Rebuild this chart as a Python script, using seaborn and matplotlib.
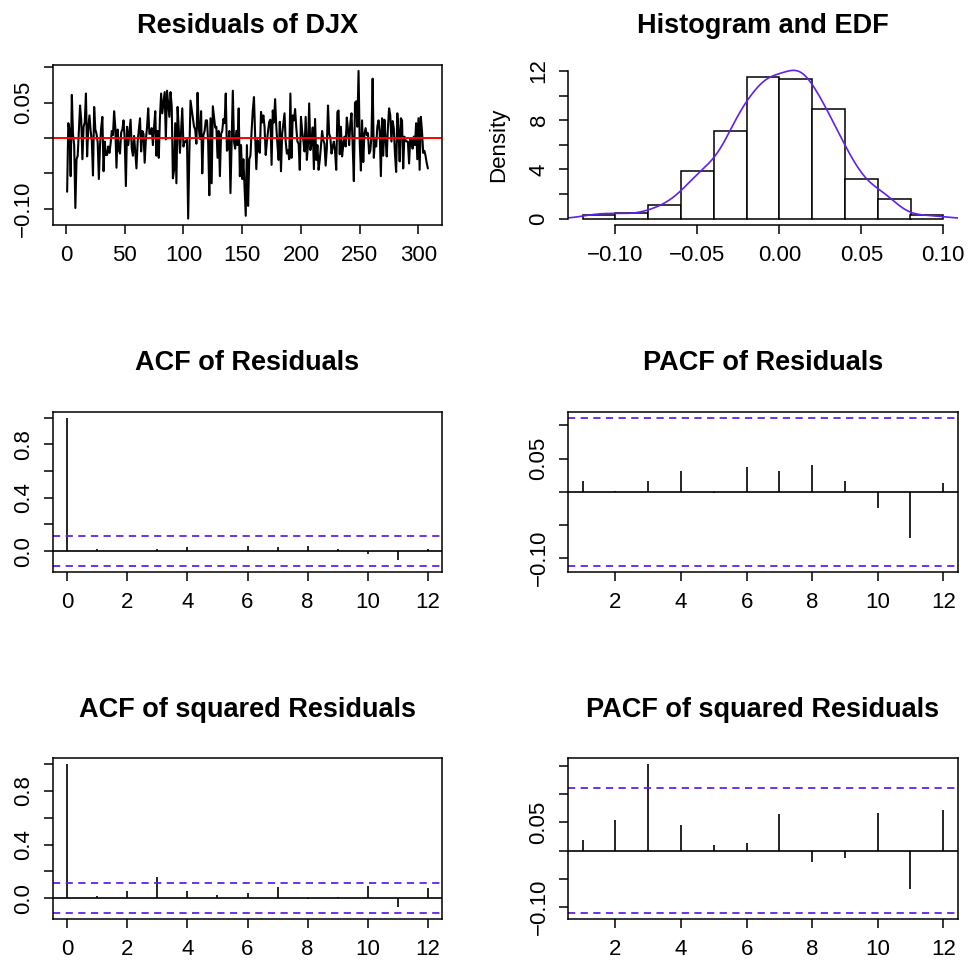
import numpy as np
import pandas as pd
import matplotlib
matplotlib.use("Agg")
import matplotlib.pyplot as plt
import seaborn as sns

# Residual series of the DJX model (index 1..308)
resid = [
    -0.076, 0.021, 0.012, -0.054, 0.061, 0.005, -0.010, -0.099, -0.030, -0.025,
    0.010, 0.046, 0.025, -0.030, 0.016, 0.022, 0.063, -0.026, 0.015, 0.032,
    0.010, -0.004, -0.053, 0.044, 0.012, 0.006, -0.006, -0.058, -0.010, 0.015,
    0.030, -0.047, -0.005, -0.024, -0.024, -0.012, -0.021, -0.008, 0.010, 0.004,
    0.038, 0.015, -0.042, 0.012, -0.017, -0.022, 0.008, 0.012, 0.025, -0.002,
    -0.068, 0.016, -0.010, 0.008, 0.026, -0.015, -0.025, 0.003, -0.019, -0.043,
    -0.005, 0.012, 0.028, -0.019, 0.010, 0.006, -0.035, -0.002, 0.015, 0.042,
    0.006, 0.006, 0.014, -0.010, 0.016, 0.038, -0.025, 0.010, -0.028, 0.030,
    0.063, 0.035, 0.050, 0.065, -0.002, 0.067, 0.048, 0.030, 0.065, 0.045,
    -0.057, -0.045, 0.021, -0.064, 0.044, 0.013, -0.021, 0.012, 0.042, -0.012,
    -0.005, -0.005, -0.001, -0.114, -0.022, 0.053, 0.041, 0.030, 0.016, 0.012,
    -0.008, 0.064, 0.015, -0.001, 0.038, -0.050, 0.004, 0.010, 0.025, 0.025,
    -0.005, -0.081, 0.028, -0.064, 0.045, 0.030, 0.015, 0.016, -0.028, 0.010,
    -0.054, 0.006, 0.010, 0.027, 0.021, 0.063, -0.018, -0.015, 0.010, -0.078,
    -0.005, 0.067, -0.005, -0.015, 0.010, -0.010, 0.042, -0.054, -0.010, -0.058,
    -0.030, -0.070, -0.110, -0.010, -0.096, -0.030, -0.025, 0.010, 0.039, 0.058,
    0.004, -0.044, -0.003, -0.017, -0.021, 0.037, 0.022, 0.032, 0.016, -0.024,
    -0.005, 0.010, 0.023, 0.026, -0.038, 0.039, 0.022, 0.055, 0.016, -0.010,
    -0.031, 0.023, -0.047, 0.006, 0.021, 0.035, -0.005, -0.022, -0.017, -0.030,
    0.063, -0.028, 0.032, 0.025, 0.041, 0.015, -0.005, -0.008, -0.045, 0.030,
    0.010, -0.003, -0.019, 0.030, -0.031, -0.010, 0.049, -0.017, -0.008, 0.015,
    -0.044, 0.027, -0.031, -0.010, -0.045, -0.031, -0.012, 0.010, -0.003, -0.008,
    -0.039, -0.015, 0.046, 0.006, 0.001, -0.022, -0.012, -0.005, -0.019, -0.045,
    0.037, 0.039, -0.023, 0.016, -0.026, -0.010, 0.002, -0.012, 0.029, 0.013,
    -0.010, 0.021, 0.035, -0.010, -0.061, 0.050, 0.052, 0.016, 0.095, -0.006,
    -0.046, 0.025, -0.034, 0.006, 0.014, 0.004, 0.007, -0.022, -0.018, 0.002,
    0.084, -0.028, -0.003, -0.012, 0.016, 0.025, 0.010, -0.054, 0.028, -0.025,
    0.026, -0.002, -0.026, 0.015, 0.042, 0.032, -0.005, 0.024, 0.014, -0.023,
    -0.048, 0.035, 0.010, -0.033, 0.028, 0.025, -0.043, 0.002, -0.003, -0.005,
    -0.005, -0.036, -0.001, -0.003, -0.015, 0.002, -0.010, 0.021, -0.030, 0.028,
    -0.045, 0.030, 0.010, -0.021, -0.018, -0.025, -0.035, -0.043,
]

# Histogram break points
hist_breaks = [-0.12, -0.10, -0.08, -0.06, -0.04, -0.02, 0.00, 0.02, 0.04, 0.06, 0.08, 0.10]

# Autocorrelations of the residuals
acf_lags = list(range(0, 13))
acf_resid = [1.0, 0.016, 0.001, 0.015, 0.032, -0.001, 0.038, 0.031, 0.042, 0.015, -0.023, -0.069, 0.014]
pacf_lags = list(range(1, 13))
pacf_resid = [0.016, 0.001, 0.016, 0.032, -0.001, 0.038, 0.031, 0.041, 0.016, -0.024, -0.069, 0.014]

# Autocorrelations of the squared residuals
acf_sq = [1.0, 0.017, 0.055, 0.155, 0.050, 0.025, 0.040, 0.080, -0.007, 0.010, 0.087, -0.065, 0.078]
pacf_sq = [0.018, 0.055, 0.154, 0.046, 0.0095, 0.013, 0.066, -0.021, -0.014, 0.067, -0.068, 0.073]

sns.set_style("ticks")
plt.rcParams["font.family"] = ["Liberation Sans", "DejaVu Sans"]
plt.rcParams["axes.linewidth"] = 1.1
for key in ("text.color", "axes.labelcolor", "xtick.color", "ytick.color",
            "axes.edgecolor", "axes.titlecolor"):
    plt.rcParams[key] = "black"

CI_COLOR = "#6020F0"
TICK_FS = 16
TITLE_FS = 19.5
LW = 1.1

W, H = 969, 960
fig = plt.figure(figsize=(W / 100, H / 100), dpi=100)

cols = [(52.7, 442.3), (568.3, 957.7)]
rows = [(65.0, 224.5), (411.7, 572.0), (758.3, 919.0)]
title_pads = [23, 30, 30]


def add_panel(r, c):
    x0, x1 = cols[c]
    y0, y1 = rows[r]
    ax = fig.add_axes([x0 / W, 1 - y1 / H, (x1 - x0) / W, (y1 - y0) / H])
    ax._row = r
    return ax


def r_range(lo, hi):
    pad = 0.04 * (hi - lo)
    return lo - pad, hi + pad


def style_axis(ax, yticks, ylabels, xticks, xlabels, title):
    ax.set_xticks(xticks)
    ax.set_xticklabels(xlabels)
    ax.set_yticks(yticks)
    ax.set_yticklabels(ylabels)
    ax.tick_params(axis="both", direction="out", length=6.5, width=LW,
                   color="black", labelsize=TICK_FS, labelcolor="black")
    ax.tick_params(axis="x", pad=8)
    ax.tick_params(axis="y", pad=7, labelrotation=90)
    for lab in ax.get_yticklabels():
        lab.set_va("center")
    for s in ax.spines.values():
        s.set_color("black")
        s.set_linewidth(LW)
    ax.set_xlabel("")
    ax.set_ylabel("")
    ax.set_title(title, fontsize=TITLE_FS, fontweight="bold", color="black",
                 pad=title_pads[ax._row])


n = len(resid)
res = np.asarray(resid)
ci = 1.959964 / np.sqrt(n)

# --- Residual series -------------------------------------------------------
ax = add_panel(0, 0)
df = pd.DataFrame({"index": np.arange(1, n + 1), "resid": res})
sns.lineplot(data=df, x="index", y="resid", ax=ax, color="black", lw=1.5)
ax.axhline(0, color="red", lw=1.4)
ax.set_xlim(*r_range(1, n))
ax.set_ylim(*r_range(res.min(), res.max()))
style_axis(ax, [-0.10, -0.05, 0.0, 0.05, 0.10], ["\u22120.10", "", "", "0.05", ""],
           [0, 50, 100, 150, 200, 250, 300], ["0", "50", "100", "150", "200", "250", "300"],
           "Residuals of DJX")

# --- Histogram with kernel density -------------------------------------------
ax = add_panel(0, 1)
sns.histplot(x=res, bins=hist_breaks, stat="density", ax=ax, color="white",
             edgecolor="black", linewidth=1.1, alpha=1)
sd = res.std(ddof=1)
iqr = np.subtract(*np.percentile(res, [75, 25]))
bw = 0.9 * min(sd, iqr / 1.34) * n ** (-0.2)
sns.kdeplot(x=res, bw_method=bw / sd, cut=3, gridsize=512, ax=ax,
            color=CI_COLOR, lw=1.2)
ax.set_xlim(*r_range(hist_breaks[0], hist_breaks[-1]))
ax.set_ylim(*r_range(0, 12))
style_axis(ax, [0, 2, 4, 6, 8, 10, 12], ["0", "", "4", "", "8", "", "12"],
           [-0.10, -0.05, 0.0, 0.05, 0.10],
           ["\u22120.10", "\u22120.05", "0.00", "0.05", "0.10"],
           "Histogram and EDF")
ax.spines["top"].set_visible(False)
ax.spines["right"].set_visible(False)
ax.spines["left"].set_bounds(0, 12)
ax.spines["bottom"].set_bounds(-0.10, 0.10)
ax.set_ylabel("Density", fontsize=TICK_FS, labelpad=14, color="black")


# --- Correlogram panels ------------------------------------------------------
def correlogram(ax, lags, vals, xticks, yticks, ylabels, title):
    vals = np.asarray(vals)
    ax.vlines(lags, 0, vals, color="black", lw=1.2)
    ax.axhline(0, color="black", lw=1.2)
    for h in (ci, -ci):
        ax.axhline(h, color=CI_COLOR, lw=1.3, ls=(0, (4, 3)))
    ax.set_xlim(*r_range(min(lags), max(lags)))
    ax.set_ylim(*r_range(min(vals.min(), -ci), max(vals.max(), ci)))
    style_axis(ax, yticks, ylabels, xticks, [str(t) for t in xticks], title)


even = [0, 2, 4, 6, 8, 10, 12]
acf_yt = [0.0, 0.2, 0.4, 0.6, 0.8, 1.0]
acf_yl = ["0.0", "", "0.4", "", "0.8", ""]

correlogram(add_panel(1, 0), acf_lags, acf_resid, even, acf_yt, acf_yl,
            "ACF of Residuals")
correlogram(add_panel(1, 1), pacf_lags, pacf_resid, even[1:],
            [-0.10, -0.05, 0.0, 0.05, 0.10], ["\u22120.10", "", "", "0.05", ""],
            "PACF of Residuals")
correlogram(add_panel(2, 0), acf_lags, acf_sq, even, acf_yt, acf_yl,
            "ACF of squared Residuals")
correlogram(add_panel(2, 1), pacf_lags, pacf_sq, even[1:],
            [-0.10, -0.05, 0.0, 0.05, 0.10, 0.15],
            ["\u22120.10", "", "", "0.05", "", ""],
            "PACF of squared Residuals")

fig.savefig("out.png", dpi=100, facecolor="white")
